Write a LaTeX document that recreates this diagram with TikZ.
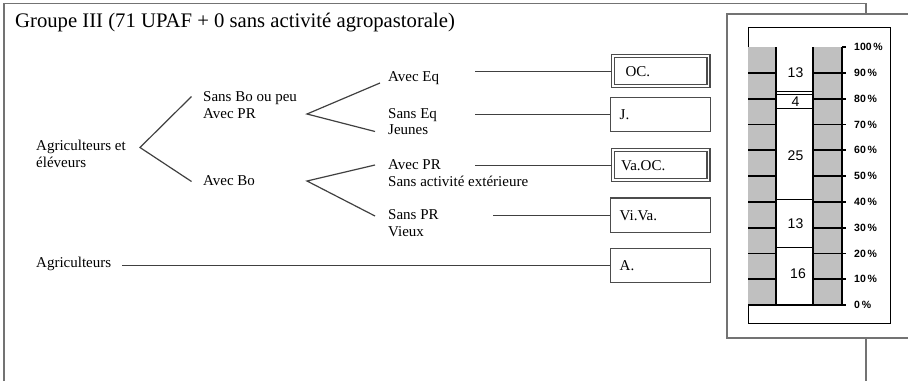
\documentclass[tikz,border=0pt]{standalone}
\usepackage{fontspec}
\setmainfont{Liberation Serif}
\newfontfamily\arialf{Liberation Sans}
\definecolor{chartgray}{RGB}{192,192,192}
\begin{document}
\begin{tikzpicture}[x=1pt,y=-1pt,
  txt/.style={font=\fontsize{15}{16.5}\selectfont, inner sep=0pt, anchor=west, align=left},
  conn/.style={draw=black!75, line width=1.2pt},
  outerframe/.style={draw=black!55, line width=1.5pt},
  boxnode/.style={draw=black!70, line width=1.4pt, minimum width=100pt, minimum height=34.5pt, text width=82pt, inner xsep=9pt, align=left, anchor=west, font=\fontsize{15}{16}\selectfont},
  dbox/.style={boxnode, double, double distance=1.8pt, line width=1.3pt, minimum width=95.6pt, minimum height=30.1pt, text width=79pt, inner xsep=8.3pt},
  tickline/.style={line width=1.8pt, black},
  pct/.style={font=\arialf\bfseries\fontsize{10.5}{11}\selectfont, anchor=west, inner sep=0pt},
  num/.style={font=\arialf\fontsize{14}{15}\selectfont, inner sep=0pt}
]
\useasboundingbox (0,0) rectangle (908,381);
\clip (0,0) rectangle (908,381);

% frames
\draw[outerframe] (4,381) -- (4,3.5) -- (866,3.5) -- (866,14);
\draw[outerframe] (866,338) -- (866,381);
\draw[outerframe] (909,14) -- (727,14) -- (727,338) -- (909,338);

% title
\node[anchor=base west, inner sep=0pt, font=\fontsize{20.7}{22}\selectfont] (title) at (15,27) {Groupe III (71 UPAF + 0 sans activité agropastorale)};

% tree texts
\node[txt] (ae) at (36,154) {Agriculteurs et\\éléveurs};
\node[txt] (sb) at (203,105) {Sans Bo ou peu\\Avec PR};
\node[txt] (ab) at (203,181) {Avec Bo};
\node[txt] (aeq) at (388,78) {Avec Eq};
\node[txt] (seq) at (388,121.5) {Sans Eq\\Jeunes};
\node[txt] (apr) at (388,173) {Avec PR\\Sans activité extérieure};
\node[txt] (spr) at (388,223) {Sans PR\\Vieux};
\node[txt] (ag) at (36,264) {Agriculteurs};

% branches
\coordinate (v1) at (140,147.5); \coordinate (v1a) at (191.5,96.5); \coordinate (v1b) at (191.5,181.5);
\coordinate (v2) at (307,114); \coordinate (v2a) at (380,83); \coordinate (v2b) at (375,131.5);
\coordinate (v3) at (307,181); \coordinate (v3a) at (375,165); \coordinate (v3b) at (375,216);
\draw[conn] (v1a) -- (v1) -- (v1b);
\draw[conn] (v2a) -- (v2) -- (v2b);
\draw[conn] (v3a) -- (v3) -- (v3b);

% boxes
\node[dbox, inner xsep=12.7pt, text width=70.2pt] (boc) at (612.2,71.2) {OC.};
\node[boxnode] (bj) at (610,114.5) {J.};
\node[dbox] (bvaoc) at (612.2,165.2) {Va.OC.};
\node[boxnode] (bviva) at (610,215.2) {Vi.Va.};
\node[boxnode] (ba) at (610,265.5) {A.};

% connectors
\coordinate (c1) at (475,71.2);
\coordinate (c2) at (475,114.5);
\coordinate (c3) at (475,165.2);
\coordinate (c4) at (493,215.2);
\coordinate (c5) at (122,265.5);
\draw[conn] (c1) -- (boc.west);
\draw[conn] (c2) -- (bj.west);
\draw[conn] (c3) -- (bvaoc.west);
\draw[conn] (c4) -- (bviva.west);
\draw[conn] (c5) -- (ba.west);

% chart
\draw[line width=0.8pt] (748,27) rectangle (890,323);
\begin{scope}[shift={(0,305)}, y=2.58pt]
  \fill[chartgray] (748,0) rectangle (776,100);
  \fill[chartgray] (813,0) rectangle (842,100);
  \foreach \p in {10,20,...,90} {
    \draw[tickline] (748,\p) -- (776,\p) (813,\p) -- (846,\p);
  }
  \draw[tickline] (748,0) -- (846,0);
  \draw[tickline] (842,100) -- (846,100);
  \draw[line width=1.5pt] (776,0) -- (776,100) (813,0) -- (813,100) (842,0) -- (842,100);
  \draw[line width=0.8pt] (776,22.2) -- (813,22.2) (776,41) -- (813,41) (776,76.2) -- (813,76.2) (776,81.7) -- (813,81.7) (776,82.6) -- (813,82.6);
  \foreach \p in {0,10,...,100} {
    \node[pct] (l\p) at (854,\p) {\p\,\%};
  }
  \node[num] (n1) at (795.5,90.1) {13};
  \node[num] (n2) at (795.5,78.9) {4};
  \node[num] (n3) at (795.5,57.9) {25};
  \node[num] (n4) at (795.5,31.4) {13};
  \node[num] (n5) at (798,12.0) {16};
\end{scope}
\end{tikzpicture}
\end{document}
